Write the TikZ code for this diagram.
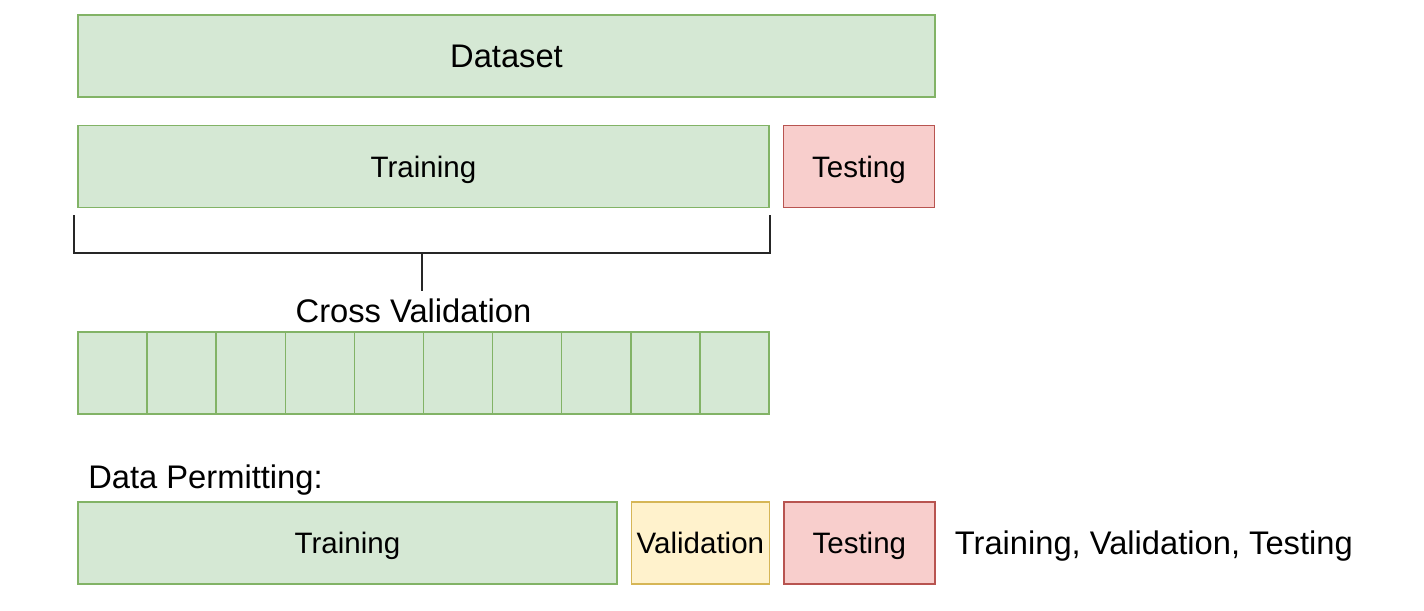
\documentclass[tikz,border=0pt]{standalone}
\usepackage{fontspec}
\setmainfont{Liberation Sans}
\usepackage{tikz}
\usetikzlibrary{positioning, calc}

\definecolor{greenfill}{HTML}{D5E8D4}
\definecolor{greendraw}{HTML}{82B366}
\definecolor{redfill}{HTML}{F8CECC}
\definecolor{reddraw}{HTML}{B85450}
\definecolor{yellowfill}{HTML}{FFF2CC}
\definecolor{yellowdraw}{HTML}{D6B656}

\begin{document}
\begin{tikzpicture}[
			node distance = 0.26cm,
			font = \fontsize{18.6}{22}\selectfont,
			part/.style   = {draw, rectangle, line width=0.8pt, minimum height=1.64cm, inner sep=0pt, align=center,
				font=\fontsize{16.8}{20}\selectfont, text height=12pt, text depth=0pt},
			train/.style  = {part, fill=greenfill, draw=greendraw},
			test/.style   = {part, fill=redfill, draw=reddraw},
			valid/.style  = {part, fill=yellowfill, draw=yellowdraw},
			fold/.style   = {part, fill=greenfill, draw=greendraw, minimum width=1.382cm},
			bracket/.style = {draw=black!85, line width=1.1pt},
			plain/.style  = {inner sep=0pt, text height=13.3pt, text depth=0pt}
			]
			
			\useasboundingbox (0,0) rectangle (28.48,-12.22);
			
			%% ── Whole dataset ─────────────────────────────────────────────
			\node [train, minimum width=17.14cm, font=\fontsize{18.6}{22}\selectfont, text height=13.3pt]
			(dataset) at (10.13,-1.12) {Dataset};
			
			%% ── Train / test split ────────────────────────────────────────
			\node [train, minimum width=13.82cm] (trainA) at (8.47,-3.33) {Training};
			\node [test,  minimum width=3.02cm, right=of trainA] (testA) {Testing};
			
			% bracket under the training part
			\draw [bracket] ([xshift=-0.06cm, yshift=-0.14cm]trainA.south west) -- ++(0,-0.76)
			-| ([yshift=-0.14cm]trainA.south east);
			\coordinate (mid) at (8.44,-5.06);
			\node [plain] (cv) at (8.27,-6.22) {Cross Validation};
			\draw [bracket] (mid) -- ($(mid |- cv.north) + (0,0.16)$);
			
			%% ── Folds ─────────────────────────────────────────────────────
			\foreach \i in {1,...,10} {
				\node [fold] (fold\i) at ({1.56 + 0.691 + (\i-1)*1.382},-7.46) {};
			}
			
			%% ── Train / validation / test split ───────────────────────────
			\node [plain, anchor=west] (permit) at (1.76,-9.54) {Data Permitting:};
			\node [train, minimum width=10.78cm] (trainB) at (6.95,-10.86) {Training};
			\node [valid, minimum width=2.76cm, right=of trainB] (validB) {Validation};
			\node [test,  minimum width=3.02cm, right=of validB] (testB) {Testing};
			\node [plain, right=0.38cm of testB] (note) {Training, Validation, Testing};
			
		\end{tikzpicture}
\end{document}
